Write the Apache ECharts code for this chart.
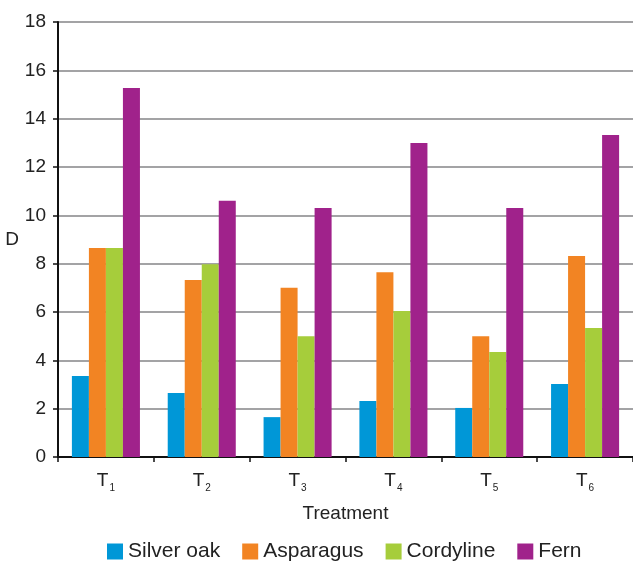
<!DOCTYPE html>
<html><head><meta charset="utf-8">
<script src="https://cdn.jsdelivr.net/npm/echarts@6/dist/echarts.min.js"></script>
<style>html,body{margin:0;padding:0;background:#fff}#c{width:633px;height:561px}</style>
</head><body><div id="c"></div>
<script>
const categories = ['1','2','3','4','5','6'];
const silverOak = [3.35, 2.65, 1.65, 2.32, 2.03, 3.02];
const asparagus = [8.65, 7.32, 7.0, 7.65, 5.0, 8.32];
const cordyline = [8.65, 7.98, 5.0, 6.04, 4.34, 5.34];
const fern = [15.27, 10.6, 10.3, 12.99, 10.3, 13.32];
const yTicks = [0, 18, 2];

const chart = echarts.init(document.getElementById('c'));
const font = 'Liberation Sans, Arial, sans-serif';
function bar(name, data, color) {
  return { name, type: 'bar', data, barGap: '0%', barCategoryGap: '29%',
    itemStyle: { color }, emphasis: { disabled: true } };
}
chart.setOption({
  animation: false,
  grid: { left: 58, right: 0, top: 22, bottom: 104 },
  legend: {
    top: 536, left: 102, itemWidth: 16, itemHeight: 16, itemGap: 22,
    icon: 'rect',
    textStyle: { fontFamily: font, fontSize: 21, color: '#222', padding: [0, 0, 0, 0] },
    data: ['Silver oak', 'Asparagus', 'Cordyline', 'Fern']
  },
  xAxis: {
    type: 'category', data: categories,
    name: 'Treatment', nameLocation: 'middle', nameGap: 47,
    nameTextStyle: { fontFamily: font, fontSize: 19, color: '#222' },
    axisLine: { lineStyle: { color: '#111', width: 2 } },
    axisTick: { show: true, length: 5, lineStyle: { color: '#111', width: 1.5 } },
    axisLabel: {
      margin: 12,
      formatter: v => '{t|T}{s|' + v + '}',
      rich: {
        t: { fontFamily: font, fontSize: 19, color: '#222' },
        s: { fontFamily: font, fontSize: 10, color: '#222', padding: [14, 0, 0, 1] }
      }
    }
  },
  yAxis: {
    type: 'value', min: yTicks[0], max: yTicks[1], interval: yTicks[2],
    name: 'D', nameLocation: 'middle', nameGap: 38, nameRotate: 0,
    nameTextStyle: { fontFamily: font, fontSize: 19, color: '#222' },
    axisLine: { show: true, lineStyle: { color: '#111', width: 2 } },
    axisTick: { show: true, length: 5, lineStyle: { color: '#111', width: 1.5 } },
    axisLabel: { fontFamily: font, fontSize: 19, color: '#222', margin: 12 },
    splitLine: { lineStyle: { color: '#a3a3a5', width: 2 } }
  },
  series: [
    bar('Silver oak', silverOak, '#0097d7'),
    bar('Asparagus', asparagus, '#f28423'),
    bar('Cordyline', cordyline, '#a6cd3b'),
    bar('Fern', fern, '#a0228b')
  ]
});
</script></body></html>
